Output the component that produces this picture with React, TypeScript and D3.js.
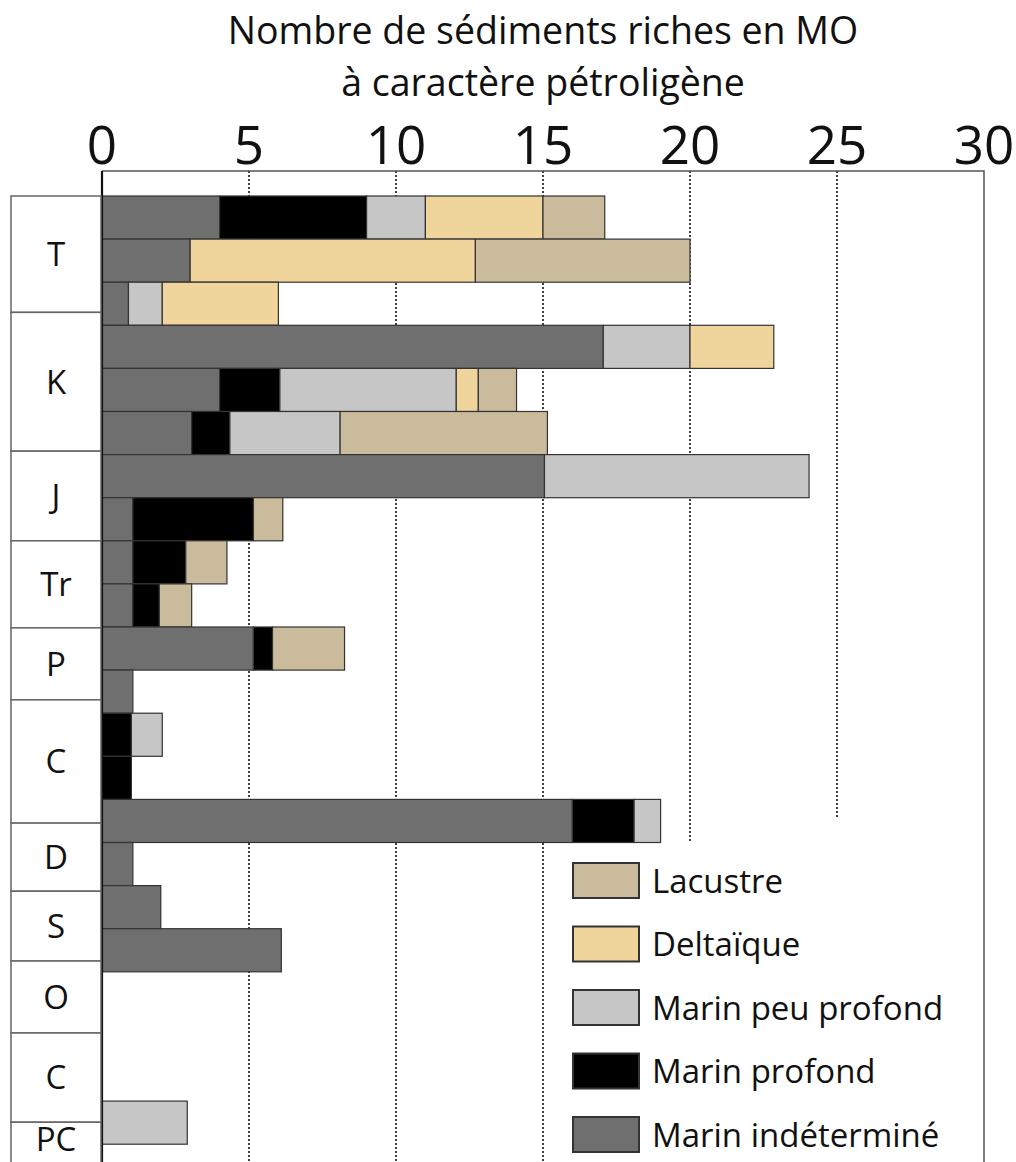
import React, { useEffect, useRef } from "react";
import * as d3 from "d3";

// stacked categories, in stacking order from the axis outwards
const SERIES = [
  "Marin indéterminé",
  "Marin profond",
  "Marin peu profond",
  "Deltaïque",
  "Lacustre",
];

const SERIES_COLORS = ["#6f6f6f", "#000000", "#c6c6c6", "#efd49c", "#cbbb9d"];

// one value per bar row, top to bottom
const MARIN_INDET = [4, 3, 0.9, 17.05, 4, 3.05, 15.05, 1.05, 1.05, 1.05, 5.15, 1.05, 0, 0, 16, 1.05, 2, 6.1, 0, 0, 0, 0];
const MARIN_PROFOND = [5, 0, 0, 0, 2.05, 1.3, 0, 4.1, 1.8, 0.9, 0.65, 0, 1, 1, 2.1, 0, 0, 0, 0, 0, 0, 0];
const MARIN_PEU = [2, 0, 1.15, 2.95, 6, 3.75, 9, 0, 0, 0, 0, 0, 1.05, 0, 0.9, 0, 0, 0, 0, 0, 0, 2.9];
const DELTAIQUE = [4, 9.7, 3.95, 2.85, 0.75, 0, 0, 0, 0, 0, 0, 0, 0, 0, 0, 0, 0, 0, 0, 0, 0, 0];
const LACUSTRE = [2.1, 7.3, 0, 0, 1.3, 7.05, 0, 1, 1.4, 1.1, 2.45, 0, 0, 0, 0, 0, 0, 0, 0, 0, 0, 0];

// geological periods and their extent, in bar-row units
const PERIODS = ["T", "K", "J", "Tr", "P", "C", "D", "S", "O", "C", "PC"];
const PERIOD_EDGES = [0, 2.7, 5.92, 8, 10.02, 11.69, 14.55, 16.13, 17.75, 19.42, 21.49, 22.8];

const X_TICKS = [0, 5, 10, 15, 20, 25, 30];
const TITLE = ["Nombre de sédiments riches en MO", "à caractère pétroligène"];

const FONT = "'Open Sans', 'Noto Sans', sans-serif";

export default function App() {
  const svgRef = useRef<SVGSVGElement>(null);

  useEffect(() => {
    if (!svgRef.current) return;
    const W = 1016;
    const H = 1162;
    const svg = d3.select(svgRef.current).attr("width", W).attr("height", H);
    svg.selectAll("*").remove();

    const frameTop = 171;
    const x = d3.scaleLinear().domain([0, 30]).range([102, 984]);
    const nRows = MARIN_INDET.length;
    const y = d3.scaleLinear().domain([0, nRows]).range([196, 196 + 43.1 * nRows]);
    const rowH = y(1) - y(0);

    // title
    svg
      .append("g")
      .selectAll("text")
      .data(TITLE)
      .enter()
      .append("text")
      .attr("x", 543)
      .attr("y", (_, i) => 44 + i * 52)
      .attr("text-anchor", "middle")
      .attr("font-family", FONT)
      .attr("font-size", 37.5)
      .attr("fill", "#111")
      .text((d) => d);

    // tick labels
    svg
      .append("g")
      .selectAll("text")
      .data(X_TICKS)
      .enter()
      .append("text")
      .attr("x", (d) => x(d))
      .attr("y", 164)
      .attr("text-anchor", "middle")
      .attr("font-family", FONT)
      .attr("font-size", 53)
      .attr("fill", "#111")
      .text((d) => d);

    // dotted grid lines (some stop above the legend)
    const gridEnd: Record<number, number> = { 20: 843, 25: 818 };
    svg
      .append("g")
      .selectAll("line")
      .data(X_TICKS.filter((t) => t > 0 && t < 30))
      .enter()
      .append("line")
      .attr("x1", (d) => x(d))
      .attr("x2", (d) => x(d))
      .attr("y1", frameTop)
      .attr("y2", (d) => gridEnd[d] ?? H)
      .attr("stroke", "#111")
      .attr("stroke-width", 1.6)
      .attr("stroke-dasharray", "2,2");

    // frame
    svg
      .append("path")
      .attr("d", `M${x(0)},${frameTop}H${x(30)}V${H}`)
      .attr("fill", "none")
      .attr("stroke", "#555")
      .attr("stroke-width", 1.5);

    // stacked bars
    const rows = MARIN_INDET.map((_, i) => [
      MARIN_INDET[i],
      MARIN_PROFOND[i],
      MARIN_PEU[i],
      DELTAIQUE[i],
      LACUSTRE[i],
    ]);
    const barG = svg.append("g");
    rows.forEach((vals, r) => {
      let acc = 0;
      vals.forEach((v, s) => {
        if (v <= 0) return;
        barG
          .append("rect")
          .attr("x", x(acc))
          .attr("y", y(r))
          .attr("width", x(acc + v) - x(acc))
          .attr("height", rowH)
          .attr("fill", SERIES_COLORS[s])
          .attr("stroke", "#333")
          .attr("stroke-width", 1.2);
        acc += v;
      });
    });

    // left axis line
    svg
      .append("line")
      .attr("x1", x(0))
      .attr("x2", x(0))
      .attr("y1", frameTop)
      .attr("y2", H)
      .attr("stroke", "#111")
      .attr("stroke-width", 2.2);

    // period boxes
    const perG = svg.append("g");
    PERIODS.forEach((p, i) => {
      const y0 = y(PERIOD_EDGES[i]);
      const y1 = y(PERIOD_EDGES[i + 1]);
      perG
        .append("rect")
        .attr("x", 11)
        .attr("y", y0)
        .attr("width", 90)
        .attr("height", y1 - y0)
        .attr("fill", "#fff")
        .attr("stroke", "#666")
        .attr("stroke-width", 1.5);
      const last = i === PERIODS.length - 1;
      perG
        .append("text")
        .attr("x", 56)
        .attr("y", last ? H - 11 : (y0 + y1) / 2)
        .attr("dy", last ? null : "0.36em")
        .attr("text-anchor", "middle")
        .attr("font-family", FONT)
        .attr("font-size", 33)
        .attr("fill", "#111")
        .text(p);
    });

    // legend, listed top-down in reverse stacking order
    const legendItems = SERIES.map((name, i) => ({ name, color: SERIES_COLORS[i] })).reverse();
    const legend = svg.append("g").attr("transform", "translate(573,863)");
    legendItems.forEach((d, i) => {
      const row = legend.append("g").attr("transform", `translate(0,${i * 63.5})`);
      row
        .append("rect")
        .attr("width", 66)
        .attr("height", 35)
        .attr("fill", d.color)
        .attr("stroke", "#333")
        .attr("stroke-width", 2);
      row
        .append("text")
        .attr("x", 79)
        .attr("y", 18)
        .attr("dy", "0.36em")
        .attr("font-family", FONT)
        .attr("font-size", 33)
        .attr("fill", "#111")
        .text(d.name);
    });
  }, []);

  return (
    <div style={{ position: "absolute", left: 0, top: 0, background: "#fff" }}>
      <svg ref={svgRef} style={{ display: "block" }}></svg>
    </div>
  );
}
